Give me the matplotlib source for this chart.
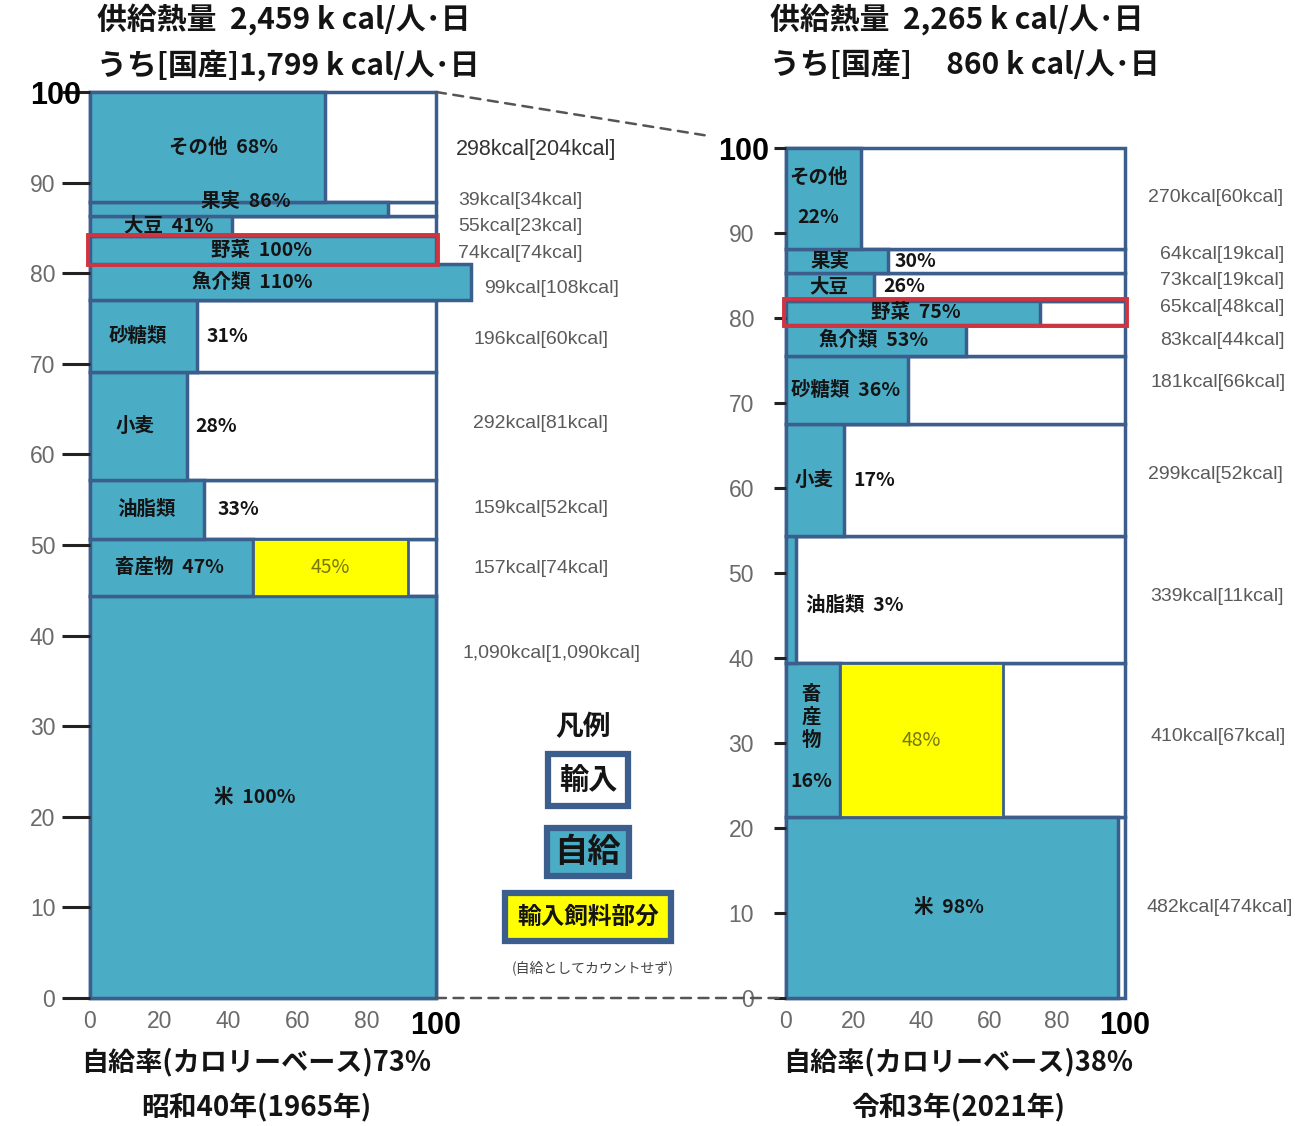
"""
Calorie-based food self-sufficiency, 1965 vs 2021, drawn as two mosaic columns:
row height = share of supplied kcal, blue width = self-sufficiency rate,
yellow = livestock produced on imported feed (not counted as domestic).
"""
import numpy as np
import matplotlib
matplotlib.use("Agg")
import matplotlib.pyplot as plt
from matplotlib.patches import ConnectionPatch, Rectangle
from matplotlib.transforms import ScaledTranslation

plt.rcParams["font.family"] = ["Noto Sans CJK JP", "DejaVu Sans"]

# rows bottom -> top
FOODS = ["米", "畜産物", "油脂類", "小麦", "砂糖類", "魚介類", "野菜", "大豆", "果実", "その他"]

KCAL_1965 = [1090, 157, 159, 292, 196, 99, 74, 55, 39, 298]
DOM_1965 = [1090, 74, 52, 81, 60, 108, 74, 23, 34, 204]
RATE_1965 = [100, 47, 33, 28, 31, 110, 100, 41, 86, 68]
FEED_1965 = [0, 45, 0, 0, 0, 0, 0, 0, 0, 0]

KCAL_2021 = [482, 410, 339, 299, 181, 83, 65, 73, 64, 270]
DOM_2021 = [474, 67, 11, 52, 66, 44, 48, 19, 19, 60]
RATE_2021 = [98, 16, 3, 17, 36, 53, 75, 26, 30, 22]
FEED_2021 = [0, 48, 0, 0, 0, 0, 0, 0, 0, 0]

SUPPLY = [2459, 2265]
DOMESTIC = [1799, 860]
ERAS = ["昭和40年(1965年)", "令和3年(2021年)"]

BLUE, EDGE, YELLOW, RED = "#4BACC6", "#3B5E8C", "#FFFF00", "#D0343F"
INK = "#141414"
NARROW = ["Liberation Sans Narrow", "Liberation Sans", "DejaVu Sans"]

# label placement per food: ("join", x[, dy, ha]) -> "name  rate%" in one piece,
# ("split", x_name, x_rate) -> name centred, rate left-aligned after it
LAYOUT_1965 = {
    "米": ("join", 47.7), "畜産物": ("join", 23), "油脂類": ("split", 16.2, 37),
    "小麦": ("split", 13, 30.3), "砂糖類": ("split", 13.9, 33.8), "魚介類": ("join", 46.8),
    "野菜": ("join", 49.7), "大豆": ("join", 22.8), "果実": ("join", 45, 0.8),
    "その他": ("join", 38.7),
}
LAYOUT_2021 = {
    "米": ("join", 48), "畜産物": ("vert", 7.4), "油脂類": ("join", 5.9, -0.6, "left"),
    "小麦": ("split", 8.3, 20), "砂糖類": ("join", 17.7), "魚介類": ("join", 25.7),
    "野菜": ("join", 38.4), "大豆": ("split", 12.7, 28.6), "果実": ("split", 13, 32),
    "その他": ("stack", 9.6),
}
KCAL_POS_1965 = ([107.8, 110.7, 110.7, 110.7, 110.7, 113.9, 106.4, 106.4, 106.4, 105.8],
                 [38.0, 47.4, 54.0, 63.4, 72.7, 78.3, 82.2, 85.1, 88.0, 93.6])
KCAL_POS_2021 = ([106.2, 107.4, 107.4, 106.8, 107.4, 110.3, 110.3, 110.3, 110.3, 106.8],
                 [10.6, 30.8, 47.2, 61.6, 72.4, 77.3, 81.2, 84.4, 87.5, 94.2])

W, H = 1309, 1126
fig = plt.figure(figsize=(W / 100, H / 100), dpi=100)


def fx(x):
    return x / W


def fy(y):
    return 1 - y / H


axL = fig.add_axes([fx(90), fy(998), 346 / W, 906 / H])
axR = fig.add_axes([fx(786), fy(998), 339 / W, 850 / H])


def cat_text(ax, x, y, s, ha="center", **kw):
    ax.text(x, y, s, ha=ha, va="center", fontsize=14, fontweight="bold", color=INK,
            clip_on=False, **kw)


def panel(ax, kcal, dom, rate, feed, layout, kpos, tick_len, tick_pad, top_shift):
    share = 100 * np.array(kcal) / sum(kcal)
    bottom = np.concatenate([[0], np.cumsum(share)[:-1]])
    mid = bottom + share / 2
    bars = [ax.barh(bottom, 100, height=share, align="edge", color="white", edgecolor=EDGE, lw=2.5),
            ax.barh(bottom, rate, height=share, align="edge", color=BLUE, edgecolor=EDGE, lw=2.5)]
    fi = [i for i, f in enumerate(feed) if f]
    bars.append(ax.barh(bottom[fi], [feed[i] for i in fi], left=[rate[i] for i in fi],
                        height=share[fi], align="edge", color=YELLOW, edgecolor=EDGE, lw=2.0))
    for bc in bars:
        for p in bc.patches:
            p.set_clip_on(False)
    for i in fi:
        ax.text(rate[i] + feed[i] / 2, mid[i], f"{feed[i]}%", ha="center", va="center",
                fontsize=14, color="#77770a")

    veg = FOODS.index("野菜")
    ax.add_patch(Rectangle((-0.6, bottom[veg] - 0.15), 101.2, share[veg] + 0.3, fill=False,
                           ec=RED, lw=2.8, clip_on=False, zorder=5))

    for i, food in enumerate(FOODS):
        spec = layout[food]
        kind = spec[0]
        if kind == "join":
            dy = spec[2] if len(spec) > 2 else 0
            ha = spec[3] if len(spec) > 3 else "center"
            cat_text(ax, spec[1], mid[i] + dy, f"{food}  {rate[i]}%", ha=ha)
        elif kind == "split":
            cat_text(ax, spec[1], mid[i], food)
            cat_text(ax, spec[2], mid[i], f"{rate[i]}%", ha="left")
        elif kind == "stack":
            cat_text(ax, spec[1], mid[i] + share[i] * 0.21, food)
            cat_text(ax, spec[1], mid[i] - share[i] * 0.19, f"{rate[i]}%")
        elif kind == "vert":
            cat_text(ax, spec[1], mid[i] + 2.7, "\n".join(food), linespacing=1.25)
            cat_text(ax, spec[1], mid[i] - 4.9, f"{rate[i]}%")

        # the top row's note is set a little larger and darker
        big = i == len(FOODS) - 1 and ax is axL
        s = f"{kcal[i]:,}kcal[{dom[i]:,}kcal]"
        ax.text(kpos[0][i], kpos[1][i], s, ha="left", va="center", fontsize=15.5 if big else 14,
                color="#333333" if big else "#5a5a5a", family=NARROW, clip_on=False)

    ax.set_xlim(0, 100)
    ax.set_ylim(0, 100)
    ax.set_yticks(range(0, 101, 10))
    ax.set_xticks(range(0, 101, 20))
    ax.tick_params(axis="y", length=tick_len, width=2.2, color="#222222", pad=tick_pad,
                   labelsize=16.5, labelcolor="#6a6a6a")
    ax.tick_params(axis="x", length=0, pad=9, labelsize=16.5, labelcolor="#6a6a6a")
    for lab in ax.get_yticklabels() + ax.get_xticklabels():
        lab.set_family(NARROW)
    for lab in (ax.get_yticklabels()[-1], ax.get_xticklabels()[-1]):
        lab.set_family(["Liberation Sans", "DejaVu Sans"])
        lab.set_fontweight("bold")
        lab.set_fontsize(22)
        lab.set_color("#000000")
    # the bold 100 on the value axis sits up against the axis
    top = ax.get_yticklabels()[-1]
    top.set_transform(top.get_transform() + ScaledTranslation(top_shift / 100, 0, fig.dpi_scale_trans))
    for sp in ax.spines.values():
        sp.set_visible(False)


panel(axL, KCAL_1965, DOM_1965, RATE_1965, FEED_1965, LAYOUT_1965, KCAL_POS_1965, 20, 5, 26)
panel(axR, KCAL_2021, DOM_2021, RATE_2021, FEED_2021, LAYOUT_2021, KCAL_POS_2021, 9, 14, 15)

# dashed guides between the two columns
for a, b in [((100, 100), (-24, 101.5)), ((100, 0), (0, 0))]:
    fig.add_artist(ConnectionPatch(xyA=a, coordsA=axL.transData, xyB=b, coordsB=axR.transData,
                                   ls=(0, (4, 3)), color="#555555", lw=1.8))

# headers and footers
for x0, xc, sup, dom, era in zip([97, 770], [256, 958], SUPPLY, DOMESTIC, ERAS):
    # three-digit figures are padded so the unit lines up with the four-digit one
    num = f"{dom:,}" if dom >= 1000 else f"\u2007  {dom}"
    fig.text(fx(x0), fy(20), f"供給熱量  {sup:,} k cal/人･日", fontsize=21.5,
             fontweight="bold", color=INK, va="center")
    fig.text(fx(x0), fy(65), f"うち[国産]{num} k cal/人･日",
             fontsize=21.5, fontweight="bold", color=INK, va="center")
    fig.text(fx(xc), fy(1062), f"自給率(カロリーベース){round(100 * dom / sup)}%", fontsize=19.5,
             fontweight="bold", color=INK, ha="center", va="center")
    fig.text(fx(xc), fy(1108), era, fontsize=20, fontweight="bold", color=INK,
             ha="center", va="center")

# legend
fig.text(fx(583), fy(727), "凡例", fontsize=20, fontweight="bold", color=INK,
         ha="center", va="center")
for y, s, fc, size, pad in [(780, "輸入", "white", 21, 0.38), (852, "自給", BLUE, 24, 0.22),
                            (917, "輸入飼料部分", YELLOW, 17, 0.5)]:
    fig.text(fx(588), fy(y), s, fontsize=size, fontweight="bold", color=INK, ha="center",
             va="center", bbox=dict(boxstyle=f"square,pad={pad}", fc=fc, ec=EDGE, lw=4.5))
fig.text(fx(593), fy(968), "(自給としてカウントせず)", fontsize=10, color="#444444",
         ha="center", va="center")

fig.savefig("out.png", dpi=100)
